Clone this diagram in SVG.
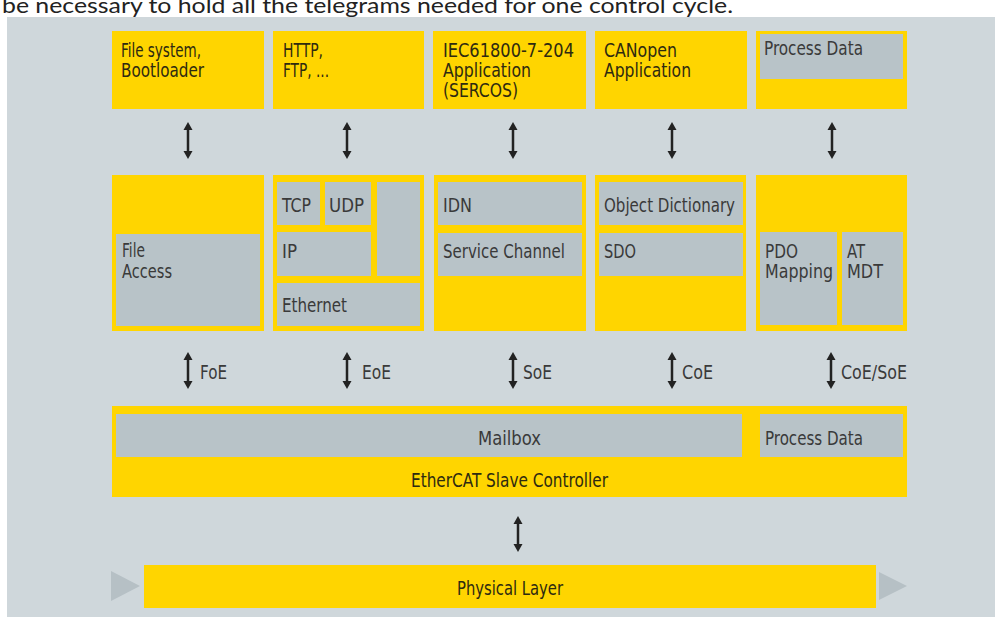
<svg xmlns="http://www.w3.org/2000/svg" width="995" height="617" viewBox="0 0 995 617">
<style>
.y{fill:#FFD500}
.g{fill:#B8C3C8}
.t{font-family:"DejaVu Sans Condensed","Liberation Sans",sans-serif;font-size:19px;fill:#3A3A3A}
.ty{font-family:"DejaVu Sans Condensed","Liberation Sans",sans-serif;font-size:19px;fill:#2E2A10}
.c{text-anchor:middle}
.ar{stroke:#222;stroke-width:2.5;fill:none}
.ah{fill:#222}
.tri{fill:#B6C0C5}
</style>
<rect x="0" y="0" width="995" height="617" fill="#FFFFFF"/>
<rect x="7" y="17" width="988" height="600" fill="#CFD7DB"/>
<text x="2" y="13" font-family="Lato,'Open Sans',sans-serif" font-size="21" fill="#222" textLength="731" lengthAdjust="spacingAndGlyphs">be necessary to hold all the telegrams needed for one control cycle.</text>

<g id="top-filesystem"><rect class="y" x="112" y="31" width="152" height="78"/><text class="ty" x="121" y="57" textLength="80" lengthAdjust="spacingAndGlyphs">File system,</text><text class="ty" x="121" y="77" textLength="83" lengthAdjust="spacingAndGlyphs">Bootloader</text></g>
<g id="top-http"><rect class="y" x="273" y="31" width="151" height="78"/><text class="ty" x="283" y="57" textLength="40" lengthAdjust="spacingAndGlyphs">HTTP,</text><text class="ty" x="283" y="77" textLength="46" lengthAdjust="spacingAndGlyphs">FTP, ...</text></g>
<g id="top-iec"><rect class="y" x="433" y="31" width="153" height="78"/><text class="ty" x="443" y="57" textLength="131" lengthAdjust="spacingAndGlyphs">IEC61800-7-204</text><text class="ty" x="443" y="77" textLength="88" lengthAdjust="spacingAndGlyphs">Application</text><text class="ty" x="443" y="97" textLength="75" lengthAdjust="spacingAndGlyphs">(SERCOS)</text></g>
<g id="top-canopen"><rect class="y" x="595" y="31" width="152" height="78"/><text class="ty" x="604" y="57" textLength="73" lengthAdjust="spacingAndGlyphs">CANopen</text><text class="ty" x="604" y="77" textLength="87" lengthAdjust="spacingAndGlyphs">Application</text></g>
<g id="top-processdata"><rect class="y" x="756" y="31" width="151" height="78"/><rect class="g" x="760" y="34" width="143" height="45"/><text class="t" x="764" y="55" textLength="99" lengthAdjust="spacingAndGlyphs">Process Data</text></g>

<g id="mid-file"><rect class="y" x="112" y="175" width="152" height="156"/><rect class="g" x="116" y="234" width="144" height="92"/><text class="t" x="122" y="257" textLength="23" lengthAdjust="spacingAndGlyphs">File</text><text class="t" x="122" y="278" textLength="50" lengthAdjust="spacingAndGlyphs">Access</text></g>
<g id="mid-ip"><rect class="y" x="273" y="175" width="151" height="156"/>
<rect class="g" x="277" y="182" width="43" height="43"/><text class="t" x="282" y="212" textLength="29" lengthAdjust="spacingAndGlyphs">TCP</text>
<rect class="g" x="325" y="182" width="46" height="43"/><text class="t" x="329" y="212" textLength="35" lengthAdjust="spacingAndGlyphs">UDP</text>
<rect class="g" x="377" y="182" width="43" height="94"/>
<rect class="g" x="277" y="232" width="94" height="44"/><text class="t" x="282" y="258" textLength="15" lengthAdjust="spacingAndGlyphs">IP</text>
<rect class="g" x="277" y="283" width="143" height="43"/><text class="t" x="282" y="312" textLength="65" lengthAdjust="spacingAndGlyphs">Ethernet</text></g>
<g id="mid-sercos"><rect class="y" x="434" y="175" width="152" height="156"/>
<rect class="g" x="438" y="182" width="144" height="43"/><text class="t" x="443" y="212" textLength="29" lengthAdjust="spacingAndGlyphs">IDN</text>
<rect class="g" x="438" y="233" width="144" height="43"/><text class="t" x="443" y="258" textLength="122" lengthAdjust="spacingAndGlyphs">Service Channel</text></g>
<g id="mid-canopen"><rect class="y" x="595" y="175" width="151" height="156"/>
<rect class="g" x="599" y="182" width="144" height="43"/><text class="t" x="604" y="212" textLength="131" lengthAdjust="spacingAndGlyphs">Object Dictionary</text>
<rect class="g" x="599" y="233" width="144" height="43"/><text class="t" x="604" y="258" textLength="32" lengthAdjust="spacingAndGlyphs">SDO</text></g>
<g id="mid-pdo"><rect class="y" x="756" y="175" width="151" height="156"/>
<rect class="g" x="760" y="232" width="77" height="93"/><text class="t" x="765" y="258" textLength="33" lengthAdjust="spacingAndGlyphs">PDO</text><text class="t" x="765" y="278" textLength="68" lengthAdjust="spacingAndGlyphs">Mapping</text>
<rect class="g" x="842" y="232" width="61" height="93"/><text class="t" x="847" y="258" textLength="18" lengthAdjust="spacingAndGlyphs">AT</text><text class="t" x="847" y="278" textLength="36" lengthAdjust="spacingAndGlyphs">MDT</text></g>

<g id="esc"><rect class="y" x="112" y="406" width="795" height="91"/>
<rect class="g" x="116" y="414" width="626" height="43"/><text class="t" x="478" y="445" textLength="63" lengthAdjust="spacingAndGlyphs">Mailbox</text>
<rect class="g" x="760" y="414" width="143" height="43"/><text class="t" x="765" y="445" textLength="98" lengthAdjust="spacingAndGlyphs">Process Data</text>
<text class="ty" x="411" y="487" textLength="197" lengthAdjust="spacingAndGlyphs">EtherCAT Slave Controller</text></g>

<g id="physical"><path class="tri" d="M111,571 L140,586 L111,601 Z"/><rect class="y" x="144" y="565" width="732" height="43"/><path class="tri" d="M879,572 L907,586 L879,600 Z"/><text class="ty" x="457" y="595" textLength="106" lengthAdjust="spacingAndGlyphs">Physical Layer</text></g>

<g id="connectors">
<g id="arrows-top">
<path class="ar" d="M188,129 V152 M347,129 V152 M513,129 V152 M672,129 V152 M832,129 V152"/>
<path class="ah" d="M188,122 l-4.5,8 h9 Z M188,159 l-4.5,-8 h9 Z M347,122 l-4.5,8 h9 Z M347,159 l-4.5,-8 h9 Z M513,122 l-4.5,8 h9 Z M513,159 l-4.5,-8 h9 Z M672,122 l-4.5,8 h9 Z M672,159 l-4.5,-8 h9 Z M832,122 l-4.5,8 h9 Z M832,159 l-4.5,-8 h9 Z"/>
</g>
<g id="arrows-mid">
<path class="ar" d="M188,359 V383 M347,359 V383 M513,359 V383 M672,359 V383 M831,359 V383"/>
<path class="ah" d="M188,352 l-4.5,8 h9 Z M188,389 l-4.5,-8 h9 Z M347,352 l-4.5,8 h9 Z M347,389 l-4.5,-8 h9 Z M513,352 l-4.5,8 h9 Z M513,389 l-4.5,-8 h9 Z M672,352 l-4.5,8 h9 Z M672,389 l-4.5,-8 h9 Z M831,352 l-4.5,8 h9 Z M831,389 l-4.5,-8 h9 Z"/>
<text class="t" x="200" y="379" textLength="27" lengthAdjust="spacingAndGlyphs">FoE</text>
<text class="t" x="362" y="379" textLength="29" lengthAdjust="spacingAndGlyphs">EoE</text>
<text class="t" x="523" y="379" textLength="29" lengthAdjust="spacingAndGlyphs">SoE</text>
<text class="t" x="682" y="379" textLength="31" lengthAdjust="spacingAndGlyphs">CoE</text>
<text class="t" x="841" y="379" textLength="66" lengthAdjust="spacingAndGlyphs">CoE/SoE</text>
</g>
<g id="arrow-bottom">
<path class="ar" d="M518,523 V546"/>
<path class="ah" d="M518,516 l-4.5,8 h9 Z M518,552 l-4.5,-8 h9 Z"/>
</g>
</g>
</svg>
